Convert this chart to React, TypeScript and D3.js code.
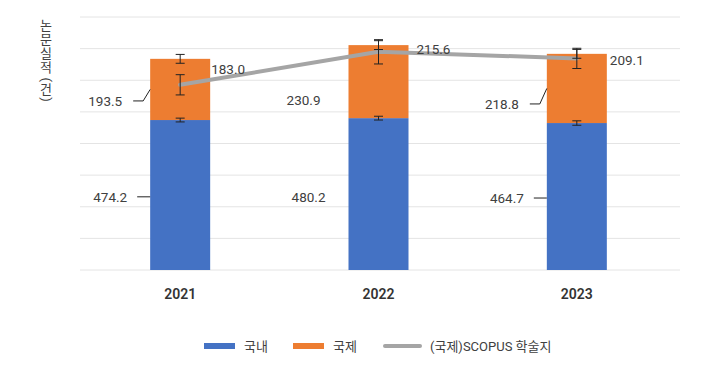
import React from "react";
import * as d3 from "d3";

const years = ["2021", "2022", "2023"];
const domestic = [474.2, 480.2, 464.7];
const international = [193.5, 230.9, 218.8];
const scopus = [183.0, 215.6, 209.1];
const domesticErr = [6, 6, 7];
const totalErr = [14, 14, 14];
const scopusErr = [10, 12, 10];
const legendLabels = ["국내", "국제", "(국제)SCOPUS 학술지"];
const yTitle = "논문실적 (건)";

// label layout tweaks (pixels), kept separate from data
const orangeLabelDy = [11.5, 18, 15.5];
const blueLabelDy = [1.8, 2.5, 1.5];
const leader = [true, false, true];
const lineLabelDy = [-16, -3, 2];
const lineLabelDx = [1, 8, 3];

const W = 720, H = 371;
const FONT = "Roboto, 'Noto Sans CJK KR', 'Noto Sans', sans-serif";
const BLUE = "#4472C4", ORANGE = "#ED7D31", GRAY = "#A5A5A5", TXT = "#404040";

function VerticalTitle({ text, x, y0 }: { text: string; x: number; y0: number }) {
  const chars = Array.from(text);
  let yy = y0;
  const items: React.ReactNode[] = [];
  chars.forEach((ch, i) => {
    const isParen = ch === "(" || ch === ")";
    const isSpace = ch === " ";
    const adv = isSpace ? 2.5 : isParen ? 6 : 13.8;
    const cy = yy + adv / 2;
    if (!isSpace) {
      items.push(
        isParen ? (
          <text key={i} transform={`translate(${x},${cy}) rotate(90)`} textAnchor="middle" dominantBaseline="central">{ch}</text>
        ) : (
          <text key={i} x={x} y={cy} textAnchor="middle" dominantBaseline="central">{ch}</text>
        )
      );
    }
    yy += adv;
  });
  return <g fontSize={13} fill={TXT}>{items}</g>;
}

export default function App() {
  const top = 17, bottom = 270;
  const x = d3.scaleBand<string>().domain(years).range([81, 676]).paddingInner(0.6975).paddingOuter(0.3488);
  const y = d3.scaleLinear().domain([0, 800]).range([bottom, top]);
  const y2 = d3.scaleLinear().domain([0, 250]).range([bottom, top]);
  const grid = d3.range(0, 801, 100);
  const bw = 60;
  const cx = (d: string) => (x(d) as number) + x.bandwidth() / 2;
  const line = d3.line<number>().x((_, i) => cx(years[i])).y((v) => y2(v));
  const fmt = d3.format(".1f");

  const errBar = (xc: number, y0: number, y1: number, key: string) => (
    <g key={key} stroke="#222" strokeWidth={1}>
      <line x1={xc} x2={xc} y1={y0} y2={y1} />
      <line x1={xc - 4.5} x2={xc + 4.5} y1={y0} y2={y0} />
      <line x1={xc - 4.5} x2={xc + 4.5} y1={y1} y2={y1} />
    </g>
  );

  return (
    <svg width={W} height={H} style={{ position: "absolute", left: 0, top: 0 }} fontFamily={FONT}>
      <rect width={W} height={H} fill="#fff" />
      {grid.map((g) => (
        <line key={g} x1={80} x2={680} y1={y(g)} y2={y(g)} stroke="#e4e4e4" strokeWidth={1} />
      ))}
      {years.map((yr, i) => {
        const c = cx(yr);
        const b0 = y(0), b1 = y(domestic[i]), b2 = y(domestic[i] + international[i]);
        return (
          <g key={yr}>
            <rect x={c - bw / 2} y={b1} width={bw} height={b0 - b1} fill={BLUE} />
            <rect x={c - bw / 2} y={b2} width={bw} height={b1 - b2} fill={ORANGE} />
          </g>
        );
      })}
      <path d={line(scopus) as string} fill="none" stroke={GRAY} strokeWidth={4} strokeLinejoin="round" strokeLinecap="round" />
      {years.map((yr, i) => {
        const c = cx(yr);
        const tot = domestic[i] + international[i];
        return (
          <g key={"e" + yr}>
            {errBar(c, y(domestic[i] + domesticErr[i]), y(domestic[i] - domesticErr[i]), "d")}
            {errBar(c, y(tot + totalErr[i]), y(tot - totalErr[i]), "t")}
            {errBar(c, y2(scopus[i] + scopusErr[i]), y2(scopus[i] - scopusErr[i]), "s")}
          </g>
        );
      })}
      {years.map((yr, i) => {
        const c = cx(yr);
        const left = c - bw / 2;
        const midB = (y(0) + y(domestic[i])) / 2;
        const midO = (y(domestic[i]) + y(domestic[i] + international[i])) / 2;
        const lyB = midB + blueLabelDy[i];
        const lyO = midO + orangeLabelDy[i];
        const textEndB = left - 23;
        const textEndO = left - 28;
        return (
          <g key={"l" + yr} fontSize={13.5} fill={TXT}>
            <text x={textEndB} y={lyB} textAnchor="end" dominantBaseline="central">{fmt(domestic[i])}</text>
            {leader[i] && <line x1={left - 13} x2={left} y1={lyB} y2={lyB} stroke="#222" strokeWidth={1} />}
            <text x={textEndO} y={lyO} textAnchor="end" dominantBaseline="central">{fmt(international[i])}</text>
            {leader[i] && (
              <polyline points={`${left - 17},${lyO} ${left - 7},${lyO} ${left},${midO}`} fill="none" stroke="#222" strokeWidth={1} />
            )}
            <text x={c + bw / 2 + lineLabelDx[i]} y={y2(scopus[i]) + lineLabelDy[i]} dominantBaseline="central">{fmt(scopus[i])}</text>
          </g>
        );
      })}
      {years.map((yr) => (
        <text key={"x" + yr} x={cx(yr)} y={294} textAnchor="middle" dominantBaseline="central" fontSize={14} fontWeight={600} fill="#333">{yr}</text>
      ))}
      <VerticalTitle text={yTitle} x={46} y0={19} />
      <g fontSize={13} fill={TXT}>
        <rect x={204} y={343} width={31} height={6} fill={BLUE} />
        <text x={244} y={346} dominantBaseline="central">{legendLabels[0]}</text>
        <rect x={293} y={343} width={31} height={6} fill={ORANGE} />
        <text x={333} y={346} dominantBaseline="central">{legendLabels[1]}</text>
        <line x1={385} x2={420} y1={346} y2={346} stroke={GRAY} strokeWidth={4} strokeLinecap="round" />
        <text x={430} y={346} dominantBaseline="central">{legendLabels[2]}</text>
      </g>
    </svg>
  );
}
